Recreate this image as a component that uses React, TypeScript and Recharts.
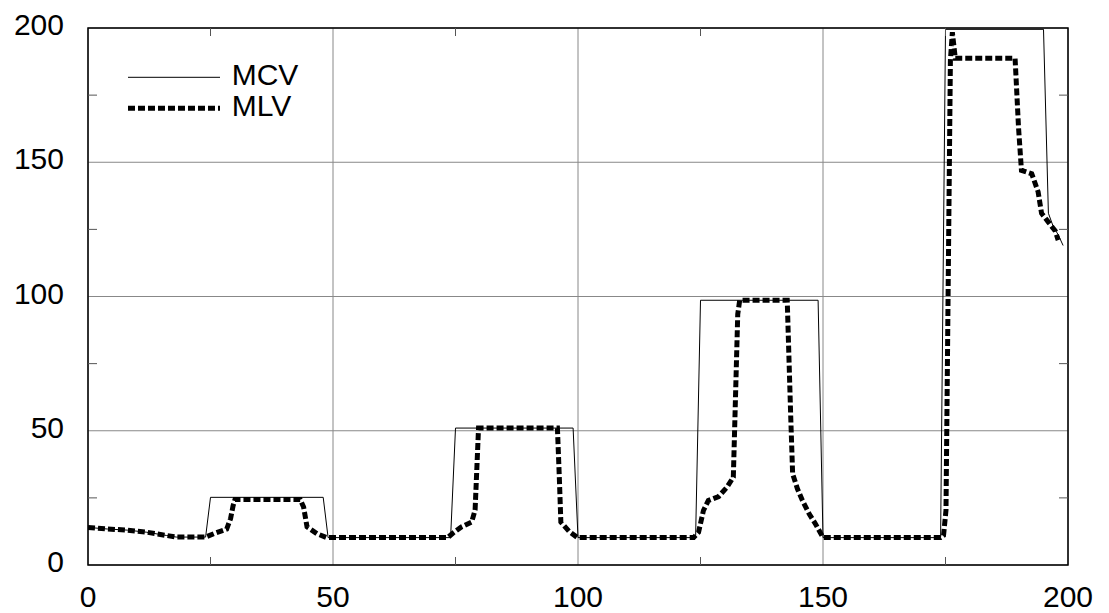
import { CartesianGrid, Legend, Line, LineChart, ReferenceArea, XAxis, YAxis } from "recharts"

const font = "'Liberation Sans', Arial, Helvetica, sans-serif"

// MCV (thin solid) breakpoints
const mcvX = [0, 4, 8, 12, 16, 18, 24, 25, 48, 49, 74, 75, 99, 100, 124, 125, 149, 150, 174, 175, 195, 196, 197, 198, 199]
const mcvY = [14, 13.4, 13, 12.2, 11, 10.4, 10.4, 25.2, 25.2, 10.2, 10.2, 51, 51, 10.2, 10.2, 98.6, 98.6, 10.2, 10.2, 199.5, 199.5, 131, 126, 123, 119]

// MLV (thick dashed) breakpoints
const mlvX = [
  0, 4, 8, 12, 16, 18, 24, 26, 28.3, 29.1, 29.6, 30, 43.3, 44, 44.7, 46.7, 48.7,
  73.4, 74.5, 76.2, 78.3, 79, 79.7, 95.8, 96.2, 96.5, 98.2, 99.9,
  123.6, 124.6, 125.6, 126.6, 128.7, 130.4, 131.7, 132.6, 133, 142.7, 143.4, 143.8, 144.8, 145.8, 147.2, 148.5, 150,
  174, 174.6, 175.1, 176, 176.4, 177, 189.2, 189.9, 190.5, 192.6, 193.9, 194.6, 196, 197.4, 198,
]
const mlvY = [
  14, 13.4, 13, 12.2, 11, 10.4, 10.4, 11.9, 13.4, 17.3, 22, 24.4, 24.4, 21.6, 14.2, 11.7, 10.2,
  10.2, 11.9, 14.2, 16, 20.5, 51, 51, 32, 16, 12.5, 10.2,
  10.2, 12.2, 20.3, 24, 25.5, 29, 32.7, 93.4, 98.6, 98.6, 56, 34, 28.3, 24, 19, 15.2, 10.2,
  10.2, 11, 20.4, 188, 198.4, 188.7, 188.7, 163, 147, 145.7, 139, 131, 127.7, 124.4, 121,
]

const majorTicks = [0, 50, 100, 150, 200]
const allTicks = [0, 25, 50, 75, 100, 125, 150, 175, 200]

const mcvData = mcvX.map((x, i) => ({ x, y: mcvY[i] }))
const mlvData = mlvX.map((x, i) => ({ x, y: mlvY[i] }))

const W = 1101
const H = 605
const M = { top: 20, right: 41, bottom: 0, left: 0 }
const plotW = W - 80 - M.right
const plotH = H - 48 - M.top
const dash = "7 3"

const isMajor = (v: number) => v % 50 === 0

// bottom axis tick: label for majors, inward tick marks on bottom + top border for minors
const XTick = ({ x, y, payload }: any) => (
  <g>
    {!isMajor(payload.value) && (
      <>
        <line x1={x} x2={x} y1={y} y2={y - 8} stroke="#555" />
        <line x1={x} x2={x} y1={y - plotH} y2={y - plotH + 8} stroke="#555" />
      </>
    )}
    {isMajor(payload.value) && (
      <text x={x} y={y + 42} textAnchor="middle" fontSize={30} fontFamily={font} fill="#000">
        {payload.value}
      </text>
    )}
  </g>
)

const YTick = ({ x, y, payload }: any) => (
  <g>
    {!isMajor(payload.value) && (
      <>
        <line x1={x} x2={x + 9} y1={y} y2={y} stroke="#555" />
        <line x1={x + plotW - 9} x2={x + plotW} y1={y} y2={y} stroke="#555" />
      </>
    )}
    {isMajor(payload.value) && (
      <text x={x - 24} y={y + 7} textAnchor="end" fontSize={30} fontFamily={font} fill="#000">
        {payload.value}
      </text>
    )}
  </g>
)

const legendStyle: Record<string, { width: number; dash?: string }> = {
  MCV: { width: 1 },
  MLV: { width: 5, dash },
}

const LegendBox = ({ payload }: any) => (
  <svg width={200} height={80}>
    {(payload || []).map((p: any, i: number) => {
      const s = legendStyle[p.value] || { width: 1 }
      const ly = 29.3 + i * 31
      return (
        <g key={p.value}>
          <line x1={10} x2={102} y1={ly} y2={ly} stroke="#000" strokeWidth={s.width} strokeDasharray={s.dash} />
          <text x={113.7} y={ly + 7.7} fontSize={30} fontFamily={font} fill="#000">
            {p.value}
          </text>
        </g>
      )
    })}
  </svg>
)

export default function App() {
  return (
    <LineChart width={W} height={H} margin={M}>
      <CartesianGrid stroke="#888" strokeWidth={1} horizontalValues={majorTicks} verticalValues={majorTicks} />
      <XAxis
        dataKey="x"
        type="number"
        domain={[0, 200]}
        ticks={allTicks}
        interval={0}
        allowDataOverflow
        height={48}
        tickSize={0}
        tickMargin={0}
        axisLine={false}
        tickLine={false}
        tick={<XTick />}
      />
      <YAxis
        type="number"
        domain={[0, 200]}
        ticks={allTicks}
        interval={0}
        allowDataOverflow
        width={80}
        tickSize={0}
        tickMargin={0}
        axisLine={false}
        tickLine={false}
        tick={<YTick />}
      />
      <ReferenceArea x1={0} x2={200} y1={0} y2={200} fill="none" fillOpacity={0} stroke="#000" strokeWidth={1.5} />
      <Legend
        layout="vertical"
        align="center"
        verticalAlign="middle"
        content={<LegendBox />}
        wrapperStyle={{ left: 110, top: 40, width: 200, height: 80 }}
      />
      <Line data={mcvData} dataKey="y" name="MCV" type="linear" stroke="#000" strokeWidth={1} dot={false} activeDot={false} isAnimationActive={false} />
      <Line data={mlvData} dataKey="y" name="MLV" type="linear" stroke="#000" strokeWidth={5} strokeDasharray={dash} dot={false} activeDot={false} isAnimationActive={false} />
    </LineChart>
  )
}
